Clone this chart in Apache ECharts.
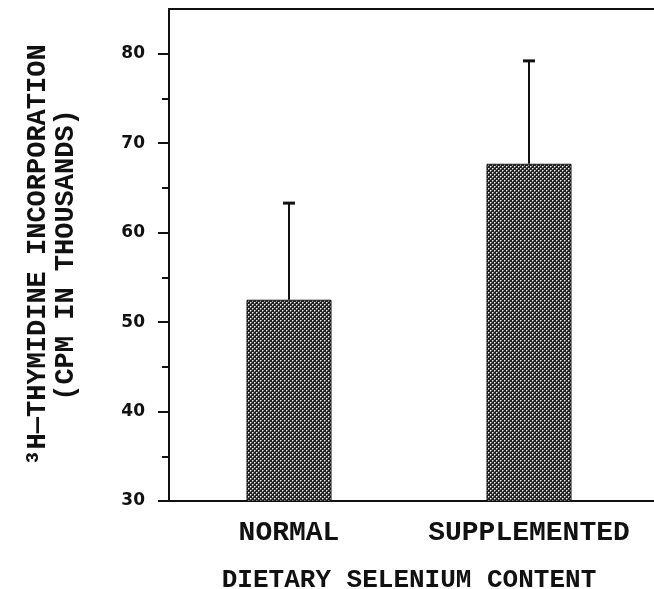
<!DOCTYPE html>
<html><head><meta charset="utf-8">
<script src="https://cdn.jsdelivr.net/npm/echarts@6/dist/echarts.min.js"></script>
<style>html,body{margin:0;padding:0;background:#fff}#c{width:654px;height:589px}</style>
</head><body><div id="c"></div>
<script>
const categories = ['NORMAL', 'SUPPLEMENTED'];
const meanValues = [52.5, 67.7];
const upperValues = [63.3, 79.2];
const majorTicks = [30, 40, 50, 60, 70, 80];
const minorTicks = [35, 45, 55, 65, 75];
const yName = '³H—THYMIDINE INCORPORATION\n(CPM IN THOUSANDS)';
const xName = 'DIETARY SELENIUM CONTENT';

function makePattern() {
  const c = document.createElement('canvas');
  c.width = 4; c.height = 4;
  const g = c.getContext('2d');
  g.fillStyle = '#222'; g.fillRect(0, 0, 4, 4);
  g.fillStyle = '#8a8a8a';
  g.fillRect(1, 0, 1, 1); g.fillRect(0, 1, 1, 1); g.fillRect(3, 2, 1, 1); g.fillRect(2, 3, 1, 1);
  g.fillStyle = '#f2f2f2';
  g.fillRect(0, 0, 1, 1); g.fillRect(2, 2, 1, 1);
  return c;
}

const ink = '#111';
const monoFont = 'Liberation Mono';
const chart = echarts.init(document.getElementById('c'), null, { renderer: 'canvas' });

chart.setOption({
  animation: false,
  backgroundColor: '#fff',
  grid: { left: 169, top: 9, right: 5, bottom: 88, containLabel: false, outerBoundsMode: 'none' },
  xAxis: [
    {
      type: 'category', data: categories, position: 'bottom',
      axisLine: { show: true, lineStyle: { color: ink, width: 2 } },
      axisTick: { show: false },
      axisLabel: { interval: 0, hideOverlap: false, margin: 18, fontFamily: monoFont, fontWeight: 'bold', fontSize: 28, color: ink },
      name: xName, nameLocation: 'middle', nameGap: 66,
      nameTextStyle: { fontFamily: monoFont, fontWeight: 'bold', fontSize: 26, color: ink }
    },
    {
      type: 'category', data: categories, position: 'top',
      axisLine: { show: true, lineStyle: { color: ink, width: 2 } },
      axisTick: { show: false }, axisLabel: { show: false }
    }
  ],
  yAxis: [
    {
      type: 'value', min: 30, max: 85, position: 'left',
      axisLine: { show: true, lineStyle: { color: ink, width: 2 } },
      axisTick: { show: true, length: 11, customValues: majorTicks, lineStyle: { color: ink, width: 2 } },
      axisLabel: { customValues: majorTicks, margin: 24, fontFamily: 'DejaVu Sans', fontWeight: 'bold', fontSize: 17, color: ink },
      splitLine: { show: false },
      name: yName, nameLocation: 'middle', nameRotate: 90, nameGap: 89,
      nameTextStyle: { fontFamily: monoFont, fontWeight: 'bold', fontSize: 27, lineHeight: 28, color: ink, align: 'center' }
    },
    {
      type: 'value', min: 30, max: 85, position: 'left',
      axisLine: { show: false },
      axisTick: { show: true, length: 7, customValues: minorTicks, lineStyle: { color: ink, width: 2 } },
      axisLabel: { show: false },
      splitLine: { show: false }
    }
  ],
  graphic: [
    { type: 'line', shape: { x1: 648, y1: 9, x2: 654, y2: 9 }, style: { stroke: ink, lineWidth: 2 } },
    { type: 'line', shape: { x1: 648, y1: 501, x2: 654, y2: 501 }, style: { stroke: ink, lineWidth: 2 } }
  ],
  series: [
    {
      type: 'bar', xAxisIndex: 0, yAxisIndex: 0, data: meanValues, barWidth: 85,
      itemStyle: { color: { image: makePattern(), repeat: 'repeat' }, borderColor: ink, borderWidth: 1 }
    },
    {
      type: 'custom', xAxisIndex: 0, yAxisIndex: 0,
      data: categories.map((c, i) => [i, meanValues[i], upperValues[i]]),
      renderItem: function (params, api) {
        const p0 = api.coord([api.value(0), api.value(1)]);
        const p1 = api.coord([api.value(0), api.value(2)]);
        return {
          type: 'group', children: [
            { type: 'line', shape: { x1: p0[0], y1: p0[1], x2: p1[0], y2: p1[1] }, style: { stroke: ink, lineWidth: 2 } },
            { type: 'line', shape: { x1: p1[0] - 6, y1: p1[1], x2: p1[0] + 6, y2: p1[1] }, style: { stroke: ink, lineWidth: 3 } }
          ]
        };
      },
      z: 3
    }
  ]
});
</script></body></html>
